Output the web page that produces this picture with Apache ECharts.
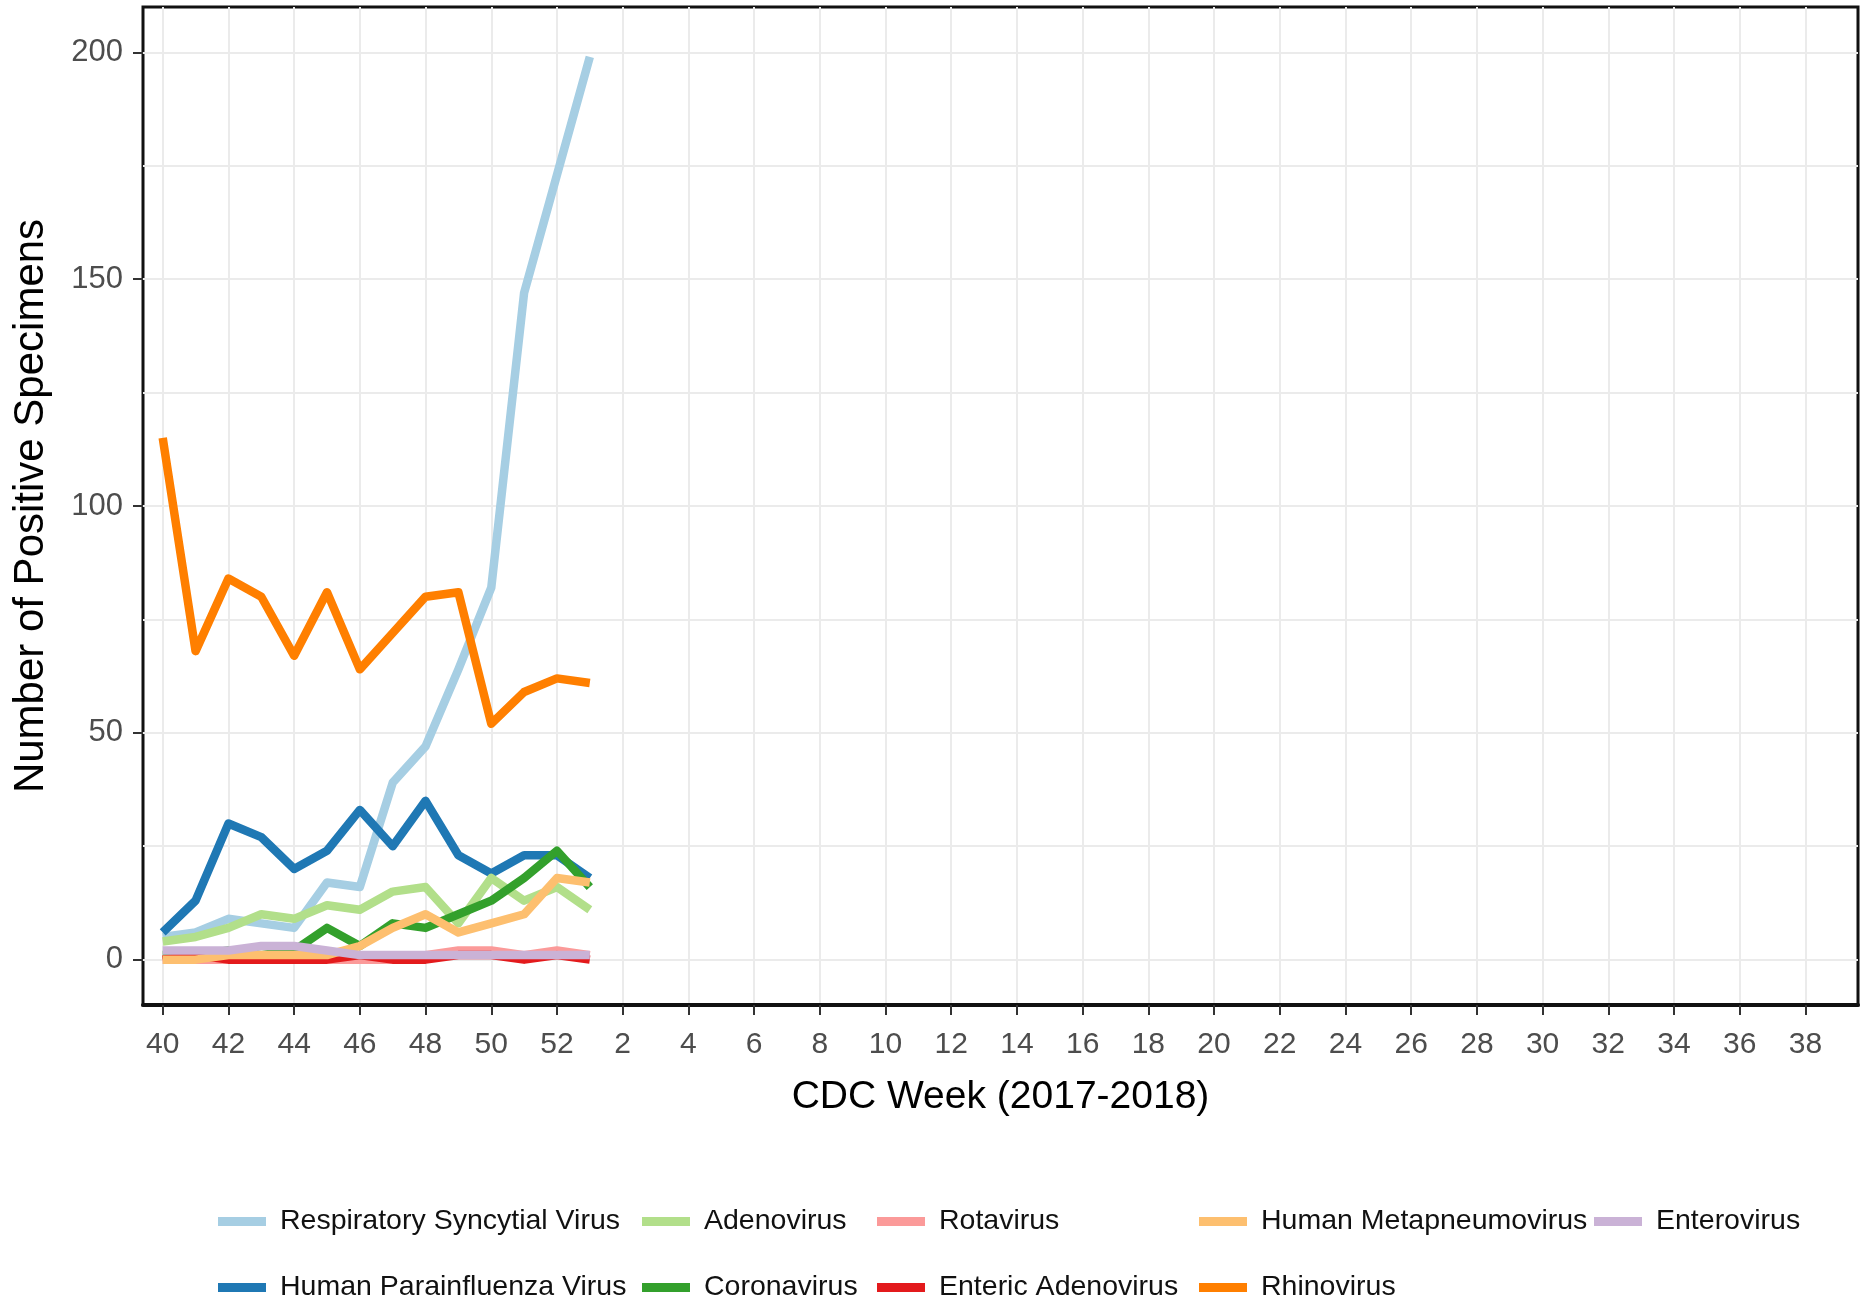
<!DOCTYPE html>
<html>
<head>
<meta charset="utf-8">
<script src="https://cdn.jsdelivr.net/npm/echarts@6/dist/echarts.min.js"></script>
<style>html,body{margin:0;padding:0;background:#fff}#c{width:1865px;height:1312px}</style>
</head>
<body>
<div id="c"></div>
<script>
// CDC weeks (categories along the x axis, 2017-2018 season)
const weeks = [40,41,42,43,44,45,46,47,48,49,50,51,52,1,2,3,4,5,6,7,8,9,10,11,12,13,14,15,16,17,18,19,20,21,22,23,24,25,26,27,28,29,30,31,32,33,34,35,36,37,38,39];
const xTickIdx = weeks.map((w, i) => i).filter(i => i % 2 === 0);
const yTicks = [0, 50, 100, 150, 200];
const yGrid = [0, 25, 50, 75, 100, 125, 150, 175, 200];

const seriesNames = ['Respiratory Syncytial Virus', 'Human Parainfluenza Virus', 'Adenovirus', 'Coronavirus',
  'Rotavirus', 'Enteric Adenovirus', 'Human Metapneumovirus', 'Rhinovirus', 'Enterovirus'];

// values for weeks 40 .. 52, 1
const rsv        = [5, 6, 9, 8, 7, 17, 16, 39, 47, 64, 82, 147, 173, 199];
const hpiv       = [6, 13, 30, 27, 20, 24, 33, 25, 35, 23, 19, 23, 23, 18];
const adeno      = [4, 5, 7, 10, 9, 12, 11, 15, 16, 8, 18, 13, 16, 11];
const corona     = [1, 1, 2, 1, 2, 7, 3, 8, 7, 10, 13, 18, 24, 16];
const rota       = [0, 0, 0, 0, 0, 0, 0, 0, 1, 2, 2, 1, 2, 1];
const entAdeno   = [0, 1, 0, 0, 0, 0, 1, 0, 0, 1, 1, 0, 1, 0];
const hmpv       = [0, 0, 1, 1, 1, 1, 3, 7, 10, 6, 8, 10, 18, 17];
const rhino      = [115, 68, 84, 80, 67, 81, 64, 72, 80, 81, 52, 59, 62, 61];
const entero     = [2, 2, 2, 3, 3, 2, 1, 1, 1, 1, 1, 1, 1, 1];

const seriesValues = [rsv, hpiv, adeno, corona, rota, entAdeno, hmpv, rhino, entero];
const colors = ['#a6cee3', '#1f78b4', '#b2df8a', '#33a02c', '#fb9a99', '#e31a1c', '#fdbf6f', '#ff7f00', '#cab2d6'];

const FF = "'Liberation Sans', Arial, Helvetica, sans-serif";

const series = seriesNames.map((name, k) => ({
  name: name,
  type: 'line',
  symbol: 'none',
  showSymbol: false,
  color: colors[k],
  lineStyle: { width: 8.5, color: colors[k], cap: 'butt', join: 'round' },
  data: seriesValues[k].map((v, i) => [i, v]),
  animation: false
}));

// legend layout: byrow, 5 columns x 2 rows
const legendOrder = [
  ['Respiratory Syncytial Virus', 0, 0], ['Adenovirus', 1, 0], ['Rotavirus', 2, 0], ['Human Metapneumovirus', 3, 0], ['Enterovirus', 4, 0],
  ['Human Parainfluenza Virus', 0, 1], ['Coronavirus', 1, 1], ['Enteric Adenovirus', 2, 1], ['Rhinovirus', 3, 1]
];
const colLeft = [218, 642, 877, 1199, 1594];
const rowTop = [1207, 1273];
const legends = legendOrder.map(([name, c, r]) => ({
  data: [name],
  left: colLeft[c],
  top: rowTop[r],
  padding: 0,
  orient: 'horizontal',
  icon: 'rect',
  itemWidth: 48,
  itemHeight: 9,
  selectedMode: false,
  textStyle: { fontSize: 28.5, color: '#111', fontFamily: FF, padding: [0, 0, 0, 9] }
}));

const chart = echarts.init(document.getElementById('c'), null, { renderer: 'canvas' });
chart.setOption({
  backgroundColor: '#ffffff',
  animation: false,
  textStyle: { fontFamily: FF },
  legend: legends,
  grid: {
    left: 143, right: 7, top: 7, bottom: 307,
    show: true, borderColor: '#111', borderWidth: 3, backgroundColor: 'transparent',
    containLabel: false
  },
  xAxis: {
    type: 'value', min: -0.6, max: 51.6,
    axisLine: { show: true, onZero: false, lineStyle: { color: '#111', width: 4 } },
    axisTick: { show: true, customValues: xTickIdx, length: 10, lineStyle: { color: '#333', width: 2 } },
    axisLabel: { customValues: xTickIdx, formatter: v => String(weeks[Math.round(v)]), color: '#4d4d4d', fontSize: 30, margin: 25, fontFamily: FF },
    splitLine: { show: true, lineStyle: { color: '#ebebeb', width: 2 } },
    name: 'CDC Week (2017-2018)', nameLocation: 'middle', nameGap: 73,
    nameTextStyle: { fontSize: 39, color: '#000', fontFamily: FF }
  },
  yAxis: [{
    type: 'value', min: -10, max: 210,
    axisLine: { show: false },
    axisTick: { show: false, customValues: yGrid },
    axisLabel: { customValues: yTicks, color: '#4d4d4d', fontSize: 31, margin: 20, fontFamily: FF },
    splitLine: { show: true, lineStyle: { color: '#ebebeb', width: 2 } },
    name: 'Number of Positive Specimens', nameLocation: 'middle', nameGap: 91, nameRotate: 90,
    nameTextStyle: { fontSize: 42, color: '#000', fontFamily: FF }
  }, {
    type: 'value', min: -10, max: 210, position: 'left',
    axisLine: { show: false },
    axisTick: { show: true, customValues: yTicks, length: 10, lineStyle: { color: '#333', width: 2 } },
    axisLabel: { show: false },
    splitLine: { show: false }
  }],
  series: series
});
</script>
</body>
</html>
